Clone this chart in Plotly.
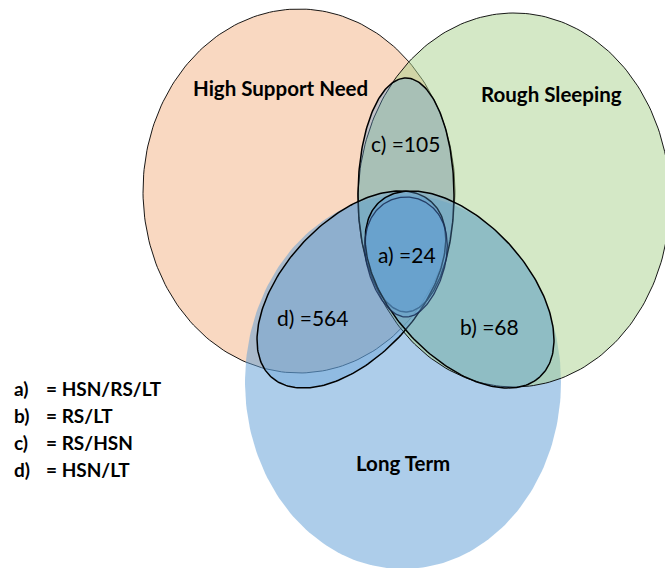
import numpy as np
import plotly.graph_objects as go

# ---- data ----
set_names = ["High Support Need", "Rough Sleeping", "Long Term"]
region_keys = ["c)", "a)", "d)", "b)"]
region_counts = [105, 24, 564, 68]
legend_keys = ["a)", "b)", "c)", "d)"]
legend_defs = ["= HSN/RS/LT", "= RS/LT", "= RS/HSN", "= HSN/LT"]

# ---- layout geometry (pixel space) ----
W, H = 665, 568
set_geom = {  # cx, cy, rx, ry
    "High Support Need": (299, 191, 156, 182),
    "Long Term": (403, 382, 158, 187),
    "Rough Sleeping": (514, 200, 156, 187),
}
set_style = {
    "High Support Need": dict(fill="rgba(244,177,131,0.5)", line="rgba(0,0,0,0.9)", lw=1),
    "Long Term": dict(fill="rgba(91,155,213,0.5)", line="rgba(0,0,0,0)", lw=0),
    "Rough Sleeping": dict(fill="rgba(169,209,142,0.5)", line="rgba(0,0,0,0.9)", lw=1),
}
draw_order = ["High Support Need", "Long Term", "Rough Sleeping"]
set_label_pos = {
    "High Support Need": (280, 88),
    "Rough Sleeping": (551, 94),
    "Long Term": (403, 463),
}
# region ellipses: cx, cy, a, b, angle(deg, up-right positive), egg factor
region_geom = {
    "c)": (406, 195, 48, 117, 0, 0.0),
    "d)": (351.4, 289.5, 118.7, 67.3, 47.4, 0.0),
    "b)": (459.6, 289.5, 118.7, 67.3, -47.4, 0.0),
    "a)": (406, 257, 40.5, 60, 0, 0.2),
}
region_draw_order = ["c)", "d)", "b)", "a)"]
region_label_pos = {
    "c)": (405, 143),
    "a)": (407, 254),
    "d)": (312, 317),
    "b)": (489, 326),
}


def ellipse(cx, cy, a, b, ang=0, egg=0.0, n=240):
    t = np.linspace(0, 2 * np.pi, n)
    th = np.deg2rad(ang)
    u = a * np.cos(t) * (1 + egg * np.sin(t))
    v = b * np.sin(t)
    x = cx + u * np.cos(th) - v * np.sin(th)
    y = cy - (u * np.sin(th) + v * np.cos(th))
    return x, y


fig = go.Figure()
for name in draw_order:
    cx, cy, rx, ry = set_geom[name]
    x, y = ellipse(cx, cy, rx, ry)
    st = set_style[name]
    fig.add_trace(go.Scatter(x=x, y=y, mode="lines", fill="toself",
                             fillcolor=st["fill"],
                             line=dict(color=st["line"], width=st["lw"]),
                             hoverinfo="skip", showlegend=False))

for key in region_draw_order:
    cx, cy, a, b, ang, egg = region_geom[key]
    x, y = ellipse(cx, cy, a, b, ang, egg)
    if key == "a)":
        line = dict(color="rgba(25,45,85,0.85)", width=1.3)
    else:
        line = dict(color="black", width=1.5)
    fig.add_trace(go.Scatter(x=x, y=y, mode="lines", fill="toself",
                             fillcolor="rgba(91,155,213,0.35)", line=line,
                             hoverinfo="skip", showlegend=False))

ann = []
for name in set_names:
    px, py = set_label_pos[name]
    ann.append(dict(x=px, y=py, text="<b>%s</b>" % name, showarrow=False,
                    xanchor="center", yanchor="middle",
                    font=dict(family="Lato", size=20.5, color="black")))
for key, cnt in zip(region_keys, region_counts):
    px, py = region_label_pos[key]
    ann.append(dict(x=px, y=py, text="%s =%d" % (key, cnt), showarrow=False,
                    xanchor="center", yanchor="middle",
                    font=dict(family="Lato", size=21, color="black")))
for i, (k, d) in enumerate(zip(legend_keys, legend_defs)):
    yy = 388 + i * 27
    ann.append(dict(x=12, y=yy, text="<b>%s</b>" % k, showarrow=False,
                    xanchor="left", yanchor="middle",
                    font=dict(family="Lato", size=19, color="black")))
    ann.append(dict(x=44, y=yy, text="<b>%s</b>" % d, showarrow=False,
                    xanchor="left", yanchor="middle",
                    font=dict(family="Lato", size=19, color="black")))

fig.update_layout(
    width=W, height=H, margin=dict(l=0, r=0, t=0, b=0),
    paper_bgcolor="white", plot_bgcolor="white",
    xaxis=dict(range=[0, W], visible=False, fixedrange=True),
    yaxis=dict(range=[H, 0], visible=False, fixedrange=True),
    annotations=ann, showlegend=False,
)
fig.write_html("out.html", config={"displayModeBar": False},
               post_script="document.body.style.margin='0';document.body.style.overflow='hidden';")
